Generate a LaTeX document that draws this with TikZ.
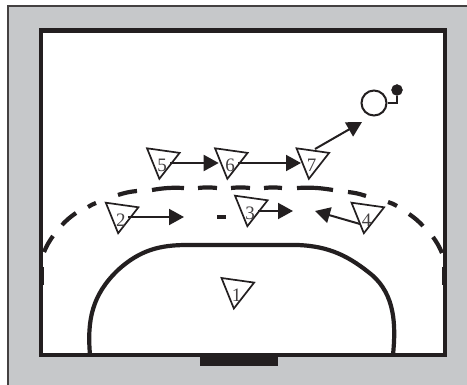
\documentclass[tikz,border=0pt]{standalone}
\usepackage{fontspec}
\setmainfont{Liberation Serif}
\usetikzlibrary{arrows.meta,shapes.geometric}
\definecolor{inkdark}{HTML}{231F20}
\definecolor{floorgray}{HTML}{C6C8CA}

\begin{document}
\begin{tikzpicture}[
    x=1pt, y=-1pt,
    player/.style={draw=inkdark, regular polygon, regular polygon sides=3, shape border rotate=172, minimum size=38pt, inner sep=0pt, outer sep=0pt, line width=1.7pt, fill=white,
        label={[yshift=-5.5pt, inner sep=0pt, text=inkdark!85, font=\fontsize{19}{19}\selectfont]center:#1}},
    arr/.style={-{Triangle[length=15pt,width=16pt]}, line width=2pt, draw=inkdark},
    zone/.style={line width=4.2pt, draw=inkdark},
    ball/.style={draw=inkdark, circle, minimum size=25pt, inner sep=0pt, line width=2pt, fill=white}
]
\useasboundingbox (0,0) rectangle (467,385);
\fill[floorgray] (8,6) rectangle (468,386);
\draw[line width=2pt, draw=inkdark!85] (8,386) -- (8,6) -- (468,6);
\draw[line width=4.6pt, draw=inkdark, fill=white] (41,30.5) rectangle (445,355);
\fill[inkdark] (200,353) rectangle (278,366);

% six metre line
\draw[zone] (90,355) .. controls (87,320) and (92,295) .. (118,270) .. controls (140,250) and (160,245) .. (187,245) -- (297,245) .. controls (330,246) and (350,257) .. (372,275) .. controls (395,295) and (396,325) .. (393,355);

% free throw line, drawn dash by dash
\foreach \xa/\ya/\xb/\yb in {44/252/53/236, 62/225/76/213, 88/207/96/203, 118/195/137/191, 152/190/184/188, 198/188/217/188, 231/188/250/188, 264/188/282/188, 297/188/333/190, 348/192/366/196, 388/202/397/206, 409/214/423/226, 433/237/442/253}
    \draw[zone] (\xa,\ya) to[bend left=6] (\xb,\yb);
\draw[zone] (217,217) -- (226,217);
\draw[line width=1.6pt, draw=inkdark] (43.6,267) -- (43.6,285);
\draw[line width=1.6pt, draw=inkdark] (442.4,267) -- (442.4,285);

\node[player=1] (p1) at (236.5,289.7) {};
\node[player=2] (p2) at (120.8,214.4) {};
\node[player=3] (p3) at (250,207.4) {};
\node[player=4] (p4) at (366.5,214.4) {};
\node[player=5] (p5) at (162,160) {};
\node[player=6] (p6) at (230,160) {};
\node[player=7] (p7) at (311.5,160) {};

\node[ball] (gk) at (374,103) {};
\node[draw=inkdark, fill=inkdark, circle, minimum size=11pt, inner sep=0pt] (dot) at (397,90) {};

\coordinate (c2) at (184,217);
\coordinate (c3) at (293,211);
\coordinate (c4) at (315,211);

\draw[arr] ([shift={(8,3)}]p5.center) -- ([shift={(-11.3,3)}]p6.center);
\draw[arr] ([shift={(8,3)}]p6.center) -- ([shift={(-10.5,3)}]p7.center);
\draw[arr] ([shift={(3.5,-11)}]p7.center) -- ([shift={(-12,19)}]gk.center);
\draw[arr] ([shift={(7,2.6)}]p2.center) -- (c2);
\draw[arr] ([shift={(8,3.6)}]p3.center) -- (c3);
\draw[arr] ([shift={(-6.5,9.6)}]p4.center) -- (c4);
\draw[line width=1.5pt, draw=inkdark] (gk.east) -- (dot.center |- gk.east) -- (dot);
\end{tikzpicture}
\end{document}
